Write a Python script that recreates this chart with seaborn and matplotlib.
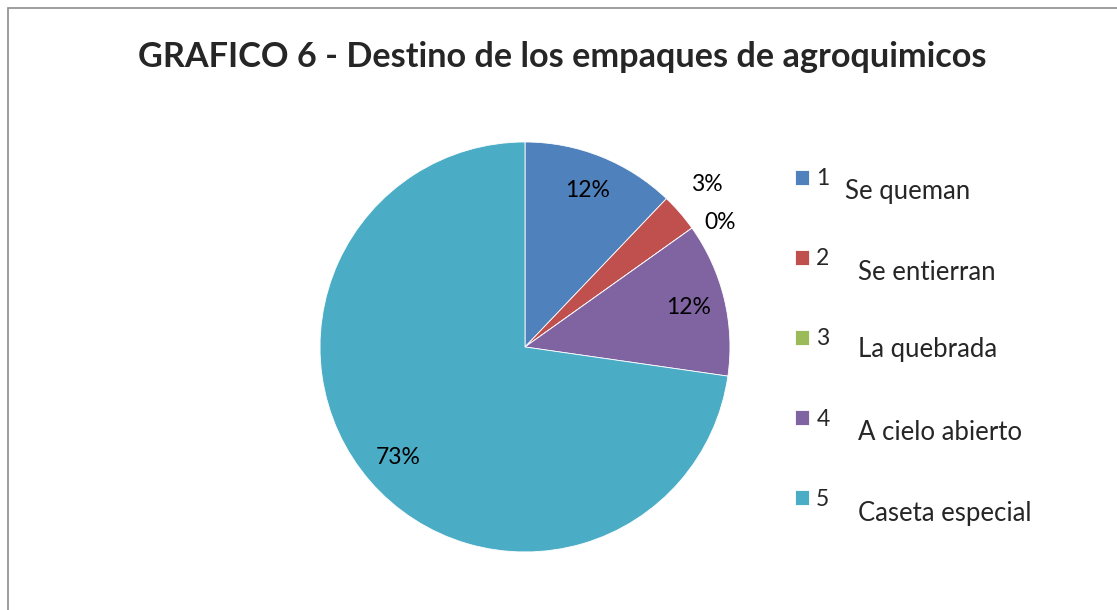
import matplotlib.pyplot as plt
import seaborn as sns
from matplotlib.patches import Rectangle
import numpy as np

# data
numeros = ["1", "2", "3", "4", "5"]
destinos = ["Se queman", "Se entierran", "La quebrada", "A cielo abierto", "Caseta especial"]
cantidades = [4, 1, 0, 4, 24]
colores = ["#4F81BD", "#C0504D", "#9BBB59", "#8064A2", "#4BACC6"]

sns.set_theme(style="white")
plt.rcParams["font.family"] = ["Lato", "DejaVu Sans"]

fig = plt.figure(figsize=(11.17, 6.10), dpi=100)
ax = fig.add_axes([0.2406, 0.0111, 0.4588, 0.8402])

wedges, texts, autotexts = ax.pie(
    cantidades,
    colors=colores,
    startangle=90,
    counterclock=False,
    autopct=lambda p: f"{p:.0f}%",
    pctdistance=0.82,
    wedgeprops={"edgecolor": "white", "linewidth": 0.6},
    textprops={"fontsize": 16.5, "color": "black"},
)
ax.set_xlim(-1.25, 1.25)
ax.set_ylim(-1.25, 1.25)

# small slices: label outside, like Excel "best fit"
total = sum(cantidades)
extra = [(1.19, 1.0), (1.13, -3.0)]
k = 0
for w, t, v in zip(wedges, autotexts, cantidades):
    if v / total < 0.05:
        r, d = extra[k]
        k += 1
        ang = np.deg2rad((w.theta1 + w.theta2) / 2 + d)
        t.set_position((r * np.cos(ang), r * np.sin(ang)))

fig.text(0.503, 0.907, "GRAFICO 6 - Destino de los empaques de agroquimicos",
         ha="center", va="center", fontsize=24.7, fontweight="bold")

leg = fig.legend(
    wedges, numeros,
    loc="upper left",
    bbox_to_anchor=(0.6934, 0.758),
    frameon=False,
    fontsize=16.5,
    labelspacing=2.58,
    handlelength=0.62,
    handleheight=0.62,
    handletextpad=0.3,
)

ys = [191, 273, 350, 433, 513]
xs = [845, 858, 858, 858, 858]
for nombre, x, y in zip(destinos, xs, ys):
    fig.text(x / 1117, 1 - y / 610, nombre, ha="left", va="center", fontsize=18.5)

fig.patches.append(Rectangle((0.007, -0.05), 1.1, 0.037 + 1.0, transform=fig.transFigure,
                             fill=False, edgecolor="#8c8c8c", linewidth=1.2))

fig.savefig("out.png", dpi=100)
